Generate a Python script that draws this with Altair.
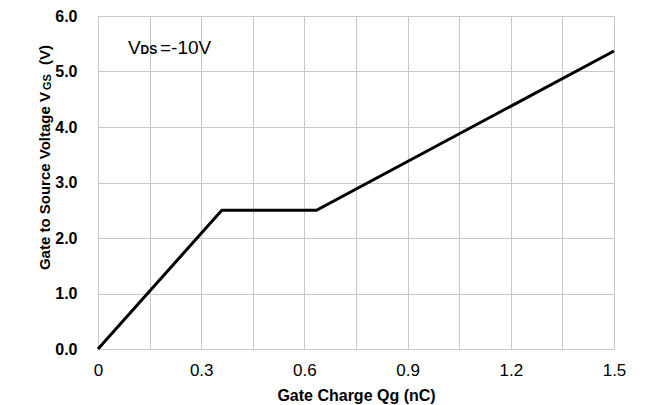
import altair as alt
import pandas as pd

# Gate charge curve (Qg in nC, VGS in V)
qg = [0.0, 0.36, 0.635, 1.5]
vgs = [0.0, 2.5, 2.5, 5.37]

x_ticks = [0.0, 0.15, 0.3, 0.45, 0.6, 0.75, 0.9, 1.05, 1.2, 1.35, 1.5]
y_ticks = [0, 1, 2, 3, 4, 5, 6]

x_title = "Gate Charge Qg (nC)"
y_title_parts = ["Gate to Source Voltage V", "GS", "(V)"]
vds_parts = ["V", "DS", "=-10V"]

df = pd.DataFrame({"qg": qg, "vgs": vgs})
one = pd.DataFrame({"a": [0]})

FONT = "Liberation Sans"

line = alt.Chart(df).mark_line(color="black", strokeWidth=3).encode(
    x=alt.X(
        "qg:Q",
        scale=alt.Scale(domain=[0, 1.5], nice=False, zero=False),
        axis=alt.Axis(
            values=x_ticks,
            labelExpr="round(datum.value/0.15) % 2 == 0 ? (datum.value == 0 ? '0' : format(datum.value, '.1f')) : ''",
            title=x_title,
            grid=True,
            gridColor="#c8c8c8",
            gridWidth=1,
            ticks=False,
            domain=False,
            labelFont=FONT,
            labelFontSize=17,
            labelColor="black",
            labelPadding=13,
            labelFlush=False,
            titleFont=FONT,
            titleFontSize=16,
            titleFontWeight="bold",
            titleColor="black",
            titlePadding=9,
        ),
    ),
    y=alt.Y(
        "vgs:Q",
        scale=alt.Scale(domain=[0, 6], nice=False),
        axis=alt.Axis(
            values=y_ticks,
            format=".1f",
            title=None,
            grid=True,
            gridColor="#c8c8c8",
            gridWidth=1,
            ticks=False,
            domain=False,
            labelFont=FONT,
            labelFontSize=16,
            labelFontWeight="bold",
            labelColor="black",
            labelPadding=21,
        ),
    ),
)

def txt(s, x, y, size, weight="normal", align="left", angle=0):
    return alt.Chart(one).mark_text(
        font=FONT, fontSize=size, fontWeight=weight, align=align,
        baseline="alphabetic", angle=angle, color="black",
    ).encode(x=alt.value(x), y=alt.value(y), text=alt.value(s))

# annotation V_DS=-10V (plot origin at 98,16)
ann = (
    txt(vds_parts[0], 30, 37.5, 19)
    + txt(vds_parts[1], 42.5, 37.5, 12, "bold")
    + txt(vds_parts[2], 62, 37.5, 19)
)

# y-axis title built from pieces (subscript GS)
ytitle = (
    txt(y_title_parts[0], -48, 76, 15, "bold", "right", 270)
    + txt(y_title_parts[1], -47, 74, 11, "bold", "left", 270)
    + txt(y_title_parts[2], -48, 29, 15, "bold", "right", 270)
)

chart = (
    alt.layer(line, ann, ytitle)
    .properties(
        width=516,
        height=333,
        autosize=alt.AutoSizeParams(type="none"),
        padding={"left": 98, "top": 16, "right": 41, "bottom": 56},
    )
    .configure_view(stroke="black", strokeWidth=3)
    .configure(background="white")
)

chart.save("out.html", embed_options={"renderer": "svg", "actions": False})
